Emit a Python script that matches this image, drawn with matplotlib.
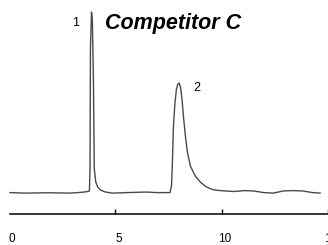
import matplotlib
matplotlib.use("Agg")
import matplotlib.pyplot as plt
from matplotlib import font_manager
from matplotlib.transforms import ScaledTranslation

# Chromatogram trace (time in min, signal in arbitrary units)
time = [0.05, 0.73, 1.88, 2.80, 3.26, 3.62, 3.78, 3.81, 3.83, 3.88, 3.92, 3.97, 4.01,
        4.08, 4.17, 4.31, 4.54, 4.86, 5.55, 6.47, 6.93, 7.57, 7.64, 7.68, 7.73, 7.80,
        7.87, 7.94, 8.00, 8.07, 8.14, 8.21, 8.30, 8.39, 8.53, 8.76, 8.99, 9.22, 9.45,
        9.68, 10.14, 10.60, 11.06, 11.51, 11.97, 12.43, 12.89, 13.35, 13.81, 14.27, 14.63]
signal = [-0.3, -0.6, -0.4, -0.6, -0.3, 0.1, 0.6, 13.0, 80.0, 100.0, 96.0, 62.0, 13.0,
          5.6, 2.8, 1.1, 0.0, -0.6, -0.3, 0.0, -0.3, -0.3, 3.3, 15.0, 36.0, 49.0,
          57.0, 60.0, 60.6, 58.0, 51.0, 41.0, 30.6, 22.0, 14.4, 8.9, 5.6, 3.3, 1.9,
          1.1, 0.6, 0.3, 0.8, 0.6, -0.3, -0.6, 0.6, 0.8, 0.6, -0.3, -0.6]

peak_labels = ["1", "2"]
peak_times = [3.12, 8.81]
peak_heights = [94.0, 58.0]
title_text = "Competitor C"
tick_values = [0, 5, 10, 15]
tick_labels = ["0", "5", "10", "15"]

names = {f.name for f in font_manager.fontManager.ttflist}
narrow = "Liberation Sans Narrow" if "Liberation Sans Narrow" in names else "Liberation Sans"

W, H = 328, 245
fig = plt.figure(figsize=(W / 100, H / 100), dpi=100)
x0 = 9 / W
ax = fig.add_axes([x0, (H - 214) / H, 1 - x0, 214 / H])
ax.plot(time, signal, color="#4a4a4a", lw=1.0)
ax.set_xlim(0, (W - 9) / 21.8)
ax.set_ylim(-12.2, 106.7)

for s in ["left", "right", "top"]:
    ax.spines[s].set_visible(False)
ax.spines["bottom"].set_linewidth(1.1)
ax.spines["bottom"].set_bounds(0.05, 15)
ax.set_yticks([])
ax.set_xticks(tick_values[1:])
ax.set_xticklabels([])
ax.tick_params(axis="x", direction="in", length=3.5, width=1)
off = ScaledTranslation(3 / 100, -25 / 100, fig.dpi_scale_trans)
for v, lab in zip(tick_values, tick_labels):
    ax.text(v, 0, lab, transform=ax.get_xaxis_transform() + off, fontfamily=narrow,
            fontsize=8.5, ha="center", va="center", clip_on=False)

for lbl, t, h in zip(peak_labels, peak_times, peak_heights):
    ax.text(t, h, lbl, fontsize=9, fontfamily="Liberation Sans", ha="center", va="center")

fig.text(105 / W, 1 - 23 / H, title_text, fontsize=15.5, fontweight="bold",
         fontstyle="italic", fontfamily="Liberation Sans", ha="left", va="center")

fig.savefig("out.png", dpi=100)
